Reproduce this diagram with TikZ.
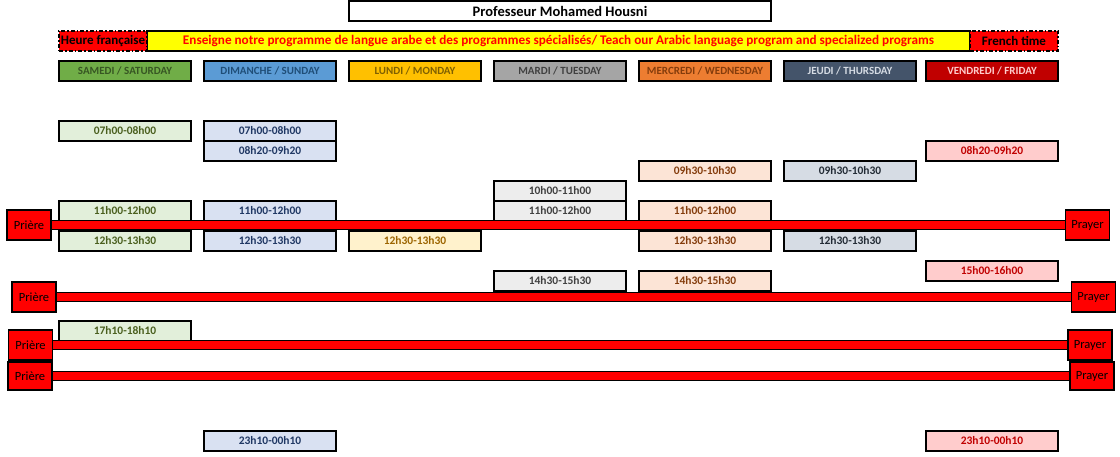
\documentclass[tikz,border=0pt]{standalone}
\usepackage{fontspec}
\setmainfont{Carlito}
\definecolor{satH}{HTML}{70AD47}\definecolor{satT}{HTML}{375623}\definecolor{satF}{HTML}{E2EFDA}\definecolor{satS}{HTML}{4A5F1E}
\definecolor{sunH}{HTML}{5B9BD5}\definecolor{sunT}{HTML}{1F4E78}\definecolor{sunF}{HTML}{D9E1F2}\definecolor{sunS}{HTML}{203864}
\definecolor{monH}{HTML}{FFC000}\definecolor{monT}{HTML}{7F6000}\definecolor{monF}{HTML}{FFF2CC}\definecolor{monS}{HTML}{9C6500}
\definecolor{tueH}{HTML}{A5A5A5}\definecolor{tueT}{HTML}{404040}\definecolor{tueF}{HTML}{EDEDED}\definecolor{tueS}{HTML}{404040}
\definecolor{wedH}{HTML}{ED7D31}\definecolor{wedT}{HTML}{843C0C}\definecolor{wedF}{HTML}{FCE4D6}\definecolor{wedS}{HTML}{843C0C}
\definecolor{thuH}{HTML}{44546A}\definecolor{thuT}{HTML}{D6DCE4}\definecolor{thuF}{HTML}{D6DCE4}\definecolor{thuS}{HTML}{222B35}
\definecolor{friH}{HTML}{C00000}\definecolor{friT}{HTML}{FFCCCC}\definecolor{friF}{HTML}{FFCCCC}\definecolor{friS}{HTML}{C00000}
\definecolor{banY}{HTML}{FFFF00}\definecolor{banR}{HTML}{FF0000}
\begin{document}
\begin{tikzpicture}[x=1pt,y=-1pt,
  cell/.style={draw=black,line width=1.6pt,minimum width=132pt,minimum height=20pt,inner sep=0pt,font=\bfseries\fontsize{11.5}{13}\selectfont},
  dayhead/.style={cell,font=\bfseries\fontsize{11}{13}\selectfont},
  prayerbox/.style={draw=black,line width=1.6pt,fill=banR,minimum width=44pt,minimum height=30pt,inner sep=0pt,font=\fontsize{12.5}{14}\selectfont},
  bar/.style={draw=black,line width=1.6pt,double=banR,double distance=7.5pt},
  tagbox/.style={draw=black,line width=1.8pt,dash pattern=on 4pt off 2pt on 1.5pt off 2pt,fill=banR,minimum height=20pt,inner sep=0pt,font=\bfseries\fontsize{13}{15}\selectfont}
]
\useasboundingbox (0,0) rectangle (1120,457);
% title
\node[draw=black,line width=1.4pt,minimum width=422pt,minimum height=20pt,inner sep=0pt,font=\bfseries\fontsize{14.5}{16}\selectfont] (title) at (560,11) {Professeur Mohamed Housni};
% banner
\node[draw=black,line width=1.8pt,fill=banY,minimum width=823pt,minimum height=20pt,inner sep=0pt,text=banR,font=\bfseries\fontsize{13.2}{15}\selectfont] (banner) at (558.5,41) {Enseigne notre programme de langue arabe et des programmes spécialisés/ Teach our Arabic language program and specialized programs};
\node[tagbox,minimum width=88pt] (heure) at (103,41) {Heure française};
\node[tagbox,minimum width=88pt] (french) at (1014,41) {French time};
% day headers
\node[dayhead,fill=satH,text=satT] (sat) at (125,71) {SAMEDI / SATURDAY};
\node[dayhead,fill=sunH,text=sunT] (sun) at (270,71) {DIMANCHE / SUNDAY};
\node[dayhead,fill=monH,text=monT] (mon) at (415,71) {LUNDI / MONDAY};
\node[dayhead,fill=tueH,text=tueT] (tue) at (560,71) {MARDI / TUESDAY};
\node[dayhead,fill=wedH,text=wedT] (wed) at (705,71) {MERCREDI / WEDNESDAY};
\node[dayhead,fill=thuH,text=thuT] (thu) at (850,71) {JEUDI / THURSDAY};
\node[dayhead,fill=friH,text=friT] (fri) at (992,71) {VENDREDI / FRIDAY};
% Saturday
\node[cell,fill=satF,text=satS] (sat1) at (125,131) {07h00-08h00};
\node[cell,fill=satF,text=satS] (sat2) at (125,211) {11h00-12h00};
\node[cell,fill=satF,text=satS] (sat3) at (125,241) {12h30-13h30};
\node[cell,fill=satF,text=satS] (sat4) at (125,331) {17h10-18h10};
% Sunday
\node[cell,fill=sunF,text=sunS] (sun1) at (270,131) {07h00-08h00};
\node[cell,fill=sunF,text=sunS] (sun2) at (270,151) {08h20-09h20};
\node[cell,fill=sunF,text=sunS] (sun3) at (270,211) {11h00-12h00};
\node[cell,fill=sunF,text=sunS] (sun4) at (270,241) {12h30-13h30};
\node[cell,fill=sunF,text=sunS] (sun5) at (270,441) {23h10-00h10};
% Monday
\node[cell,fill=monF,text=monS] (mon1) at (415,241) {12h30-13h30};
% Tuesday
\node[cell,fill=tueF,text=tueS] (tue1) at (560,191) {10h00-11h00};
\node[cell,fill=tueF,text=tueS] (tue2) at (560,211) {11h00-12h00};
\node[cell,fill=tueF,text=tueS] (tue3) at (560,281) {14h30-15h30};
% Wednesday
\node[cell,fill=wedF,text=wedS] (wed1) at (705,171) {09h30-10h30};
\node[cell,fill=wedF,text=wedS] (wed2) at (705,211) {11h00-12h00};
\node[cell,fill=wedF,text=wedS] (wed3) at (705,241) {12h30-13h30};
\node[cell,fill=wedF,text=wedS] (wed4) at (705,281) {14h30-15h30};
% Thursday
\node[cell,fill=thuF,text=thuS] (thu1) at (850,171) {09h30-10h30};
\node[cell,fill=thuF,text=thuS] (thu2) at (850,241) {12h30-13h30};
% Friday
\node[cell,fill=friF,text=friS] (fri1) at (992,151) {08h20-09h20};
\node[cell,fill=friF,text=friS] (fri2) at (992,271) {15h00-16h00};
\node[cell,fill=friF,text=friS] (fri3) at (992,441) {23h10-00h10};
% prayer boxes
\node[prayerbox] (pl1) at (29,225) {Prière};
\node[prayerbox] (pr1) at (1087.5,225) {Prayer};
\node[prayerbox] (pl2) at (34,297) {Prière};
\node[prayerbox] (pr2) at (1093.5,297) {Prayer};
\node[prayerbox] (pl3) at (30.5,345) {Prière};
\node[prayerbox] (pr3) at (1090,345) {Prayer};
\node[prayerbox,minimum height=28pt] (pl4) at (30,376) {Prière};
\node[prayerbox,minimum height=28pt] (pr4) at (1092,376) {Prayer};
% bars
\draw[bar] (pl1.east) -- (pr1.west);
\draw[bar] (pl2.east) -- (pr2.west);
\draw[bar] (pl3.east) -- (pr3.west);
\draw[bar] (pl4.east) -- (pr4.west);
\end{tikzpicture}
\end{document}
